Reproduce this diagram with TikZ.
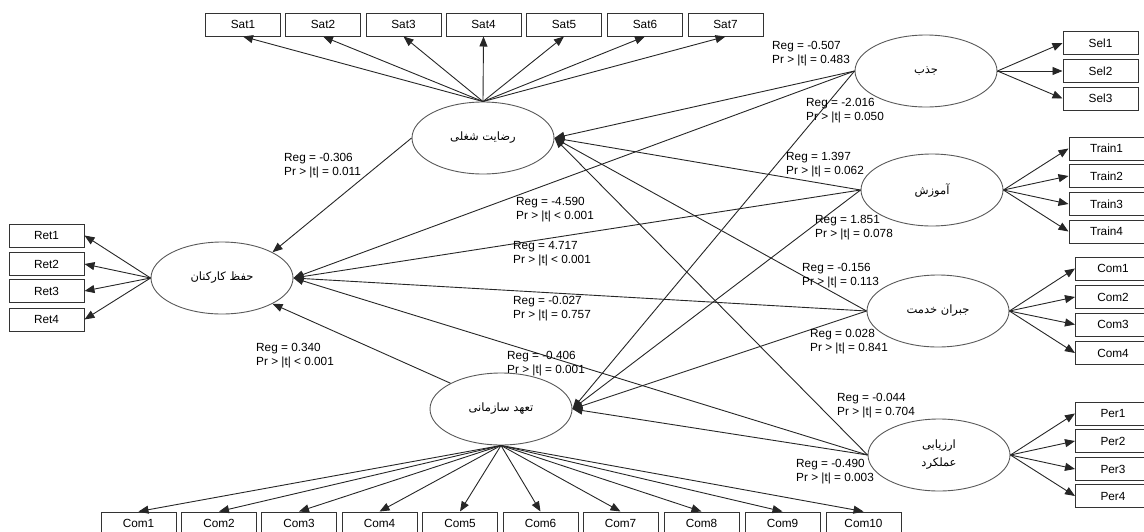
\documentclass[tikz,border=0pt]{standalone}
\usepackage{fontspec}
\setmainfont{Liberation Sans}
\newfontfamily\farsi[Script=Arabic]{DejaVu Sans}
\TeXXeTstate=1
\usetikzlibrary{shapes.geometric,arrows.meta}

\begin{document}
\begin{tikzpicture}[x=1pt,y=-1pt,
  latent/.style={ellipse,draw=black!65,line width=0.9pt,minimum width=142pt,minimum height=72pt,inner sep=0pt,align=center,font=\farsi\fontsize{11.5}{18}\selectfont},
  item/.style={draw=black!80,line width=1pt,minimum width=75pt,minimum height=23pt,inner sep=0pt,font=\fontsize{11.8}{13}\selectfont},
  link/.style={-{Triangle[length=10pt,width=8pt]},line width=0.9pt,black!85},
  est/.style={anchor=west,inner sep=0pt,align=left,font=\fontsize{11.8}{13.8}\selectfont}]
\useasboundingbox (0,0) rectangle (1144,531);
% latent variables
\node[latent] (sat) at (483,138) {\beginR رضایت شغلی\endR};
\node[latent] (ret) at (222,278) {\beginR حفظ کارکنان\endR};
\node[latent] (com) at (501,409) {\beginR تعهد سازمانی\endR};
\node[latent] (sel) at (926,71) {\beginR جذب\endR};
\node[latent] (tra) at (932,190) {\beginR آموزش\endR};
\node[latent] (pay) at (938,311) {\beginR جبران خدمت\endR};
\node[latent] (per) at (939,455) {\beginR ارزیابی\endR\\\beginR عملکرد\endR};
% indicators
\node[item] (sat1) at (243,24.5) {Sat1};
\node[item] (sat2) at (323,24.5) {Sat2};
\node[item] (sat3) at (403.5,24.5) {Sat3};
\node[item] (sat4) at (483.5,24.5) {Sat4};
\node[item] (sat5) at (564,24.5) {Sat5};
\node[item] (sat6) at (645,24.5) {Sat6};
\node[item] (sat7) at (725.5,24.5) {Sat7};
\node[item] (sel1) at (1100.5,43) {Sel1};
\node[item] (sel2) at (1100.5,71) {Sel2};
\node[item] (sel3) at (1100.5,98.5) {Sel3};
\node[item] (tra1) at (1106.5,148.5) {Train1};
\node[item] (tra2) at (1106.5,176) {Train2};
\node[item] (tra3) at (1106.5,204) {Train3};
\node[item] (tra4) at (1106.5,231.5) {Train4};
\node[item] (pay1) at (1113,268.5) {Com1};
\node[item] (pay2) at (1113,297) {Com2};
\node[item] (pay3) at (1113,324.5) {Com3};
\node[item] (pay4) at (1113,353) {Com4};
\node[item] (per1) at (1113,413.5) {Per1};
\node[item] (per2) at (1113,441) {Per2};
\node[item] (per3) at (1113,469) {Per3};
\node[item] (per4) at (1113,496) {Per4};
\node[item] (ret1) at (46.5,235.5) {Ret1};
\node[item] (ret2) at (46.5,264) {Ret2};
\node[item] (ret3) at (46.5,291) {Ret3};
\node[item] (ret4) at (46.5,319.5) {Ret4};
\node[item] (com1) at (138.5,523.5) {Com1};
\node[item] (com2) at (219,523.5) {Com2};
\node[item] (com3) at (299,523.5) {Com3};
\node[item] (com4) at (379.5,523.5) {Com4};
\node[item] (com5) at (460,523.5) {Com5};
\node[item] (com6) at (540.5,523.5) {Com6};
\node[item] (com7) at (620.5,523.5) {Com7};
\node[item] (com8) at (701.5,523.5) {Com8};
\node[item] (com9) at (782.5,523.5) {Com9};
\node[item] (com10) at (863.5,523.5) {Com10};
% loadings
\draw[link] (sat.north) -- (sat1.south);
\draw[link] (sat.north) -- (sat2.south);
\draw[link] (sat.north) -- (sat3.south);
\draw[link] (sat.north) -- (sat4.south);
\draw[link] (sat.north) -- (sat5.south);
\draw[link] (sat.north) -- (sat6.south);
\draw[link] (sat.north) -- (sat7.south);
\draw[link] (sel.east) -- (sel1.west);
\draw[link] (sel.east) -- (sel2.west);
\draw[link] (sel.east) -- (sel3.west);
\draw[link] (tra.east) -- (tra1.west);
\draw[link] (tra.east) -- (tra2.west);
\draw[link] (tra.east) -- (tra3.west);
\draw[link] (tra.east) -- (tra4.west);
\draw[link] (pay.east) -- (pay1.west);
\draw[link] (pay.east) -- (pay2.west);
\draw[link] (pay.east) -- (pay3.west);
\draw[link] (pay.east) -- (pay4.west);
\draw[link] (per.east) -- (per1.west);
\draw[link] (per.east) -- (per2.west);
\draw[link] (per.east) -- (per3.west);
\draw[link] (per.east) -- (per4.west);
\draw[link] (ret.west) -- (ret1.east);
\draw[link] (ret.west) -- (ret2.east);
\draw[link] (ret.west) -- (ret3.east);
\draw[link] (ret.west) -- (ret4.east);
\draw[link] (com.south) -- (com1.north);
\draw[link] (com.south) -- (com2.north);
\draw[link] (com.south) -- (com3.north);
\draw[link] (com.south) -- (com4.north);
\draw[link] (com.south) -- (com5.north);
\draw[link] (com.south) -- (com6.north);
\draw[link] (com.south) -- (com7.north);
\draw[link] (com.south) -- (com8.north);
\draw[link] (com.south) -- (com9.north);
\draw[link] (com.south) -- (com10.north);
% paths
\draw[link] (sel.west) -- (sat.east);
\draw[link] (sel.west) -- (ret.east);
\draw[link] (sel.west) -- (com.east);
\draw[link] (tra.west) -- (sat.east);
\draw[link] (tra.west) -- (ret.east);
\draw[link] (tra.west) -- (com.east);
\draw[link] (pay.west) -- (sat.east);
\draw[link] (pay.west) -- (ret.east);
\draw[link] (pay.west) -- (com.east);
\draw[link] (per.west) -- (sat.east);
\draw[link] (per.west) -- (ret.east);
\draw[link] (per.west) -- (com.east);
\draw[link] (sat.west) -- (ret.north east);
\draw[link] (com.north west) -- (ret.south east);
% estimates
\node[est] (e1) at (772,53.5) {Reg = -0.507\\Pr > |t| = 0.483};
\node[est] (e2) at (806,111) {Reg = -2.016\\Pr > |t| = 0.050};
\node[est] (e3) at (786,164.5) {Reg = 1.397\\Pr > |t| = 0.062};
\node[est] (e4) at (815,228) {Reg = 1.851\\Pr > |t| = 0.078};
\node[est] (e5) at (802,276) {Reg = -0.156\\Pr > |t| = 0.113};
\node[est] (e6) at (810,341.5) {Reg = 0.028\\Pr > |t| = 0.841};
\node[est] (e7) at (837,405.5) {Reg = -0.044\\Pr > |t| = 0.704};
\node[est] (e8) at (796,472) {Reg = -0.490\\Pr > |t| = 0.003};
\node[est] (e9) at (284,166) {Reg = -0.306\\Pr > |t| = 0.011};
\node[est] (e10) at (256,355.5) {Reg = 0.340\\Pr > |t| < 0.001};
\node[est] (e11) at (516,210) {Reg = -4.590\\Pr > |t| < 0.001};
\node[est] (e12) at (513,253.5) {Reg = 4.717\\Pr > |t| < 0.001};
\node[est] (e13) at (513,309) {Reg = -0.027\\Pr > |t| = 0.757};
\node[est] (e14) at (507,364) {Reg = -0.406\\Pr > |t| = 0.001};
\end{tikzpicture}
\end{document}
